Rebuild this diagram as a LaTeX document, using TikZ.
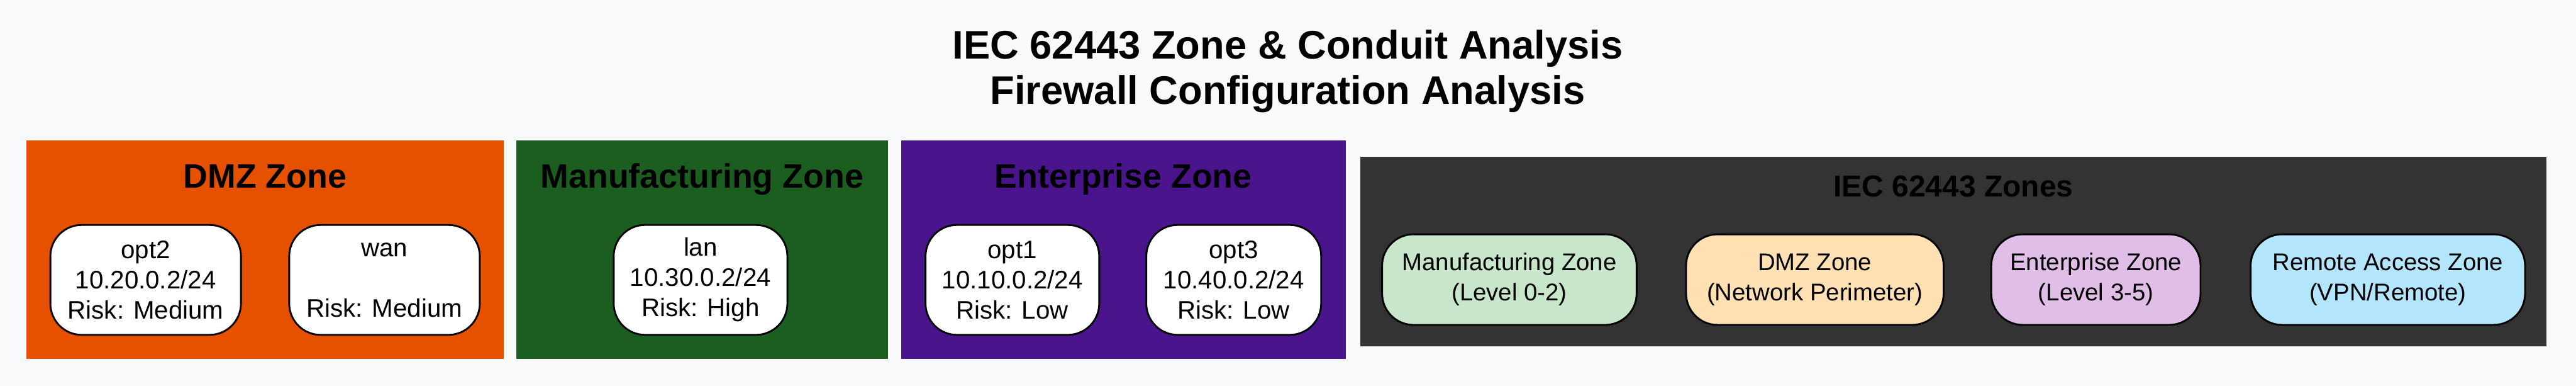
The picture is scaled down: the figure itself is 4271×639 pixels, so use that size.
\documentclass[tikz,border=0pt]{standalone}
\usepackage{fontspec}
\setmainfont{Liberation Sans}
\definecolor{bgc}{HTML}{F8F9FA}
\definecolor{dmzc}{HTML}{E65100}
\definecolor{mfgc}{HTML}{1B5E20}
\definecolor{entc}{HTML}{4A148C}
\definecolor{iecc}{HTML}{333333}
\definecolor{mfgl}{HTML}{C8E6C9}
\definecolor{dmzl}{HTML}{FFE0B2}
\definecolor{entl}{HTML}{E1BEE7}
\definecolor{rmtl}{HTML}{B3E5FC}
\tikzset{
  zone/.style={draw=none,inner sep=0pt,minimum height=180.5pt},
  ztitle/.style={anchor=base,inner sep=0pt,font=\fontsize{28pt}{34pt}\selectfont\bfseries},
  ifbox/.style={draw=black,line width=1.5pt,rounded corners=26pt,fill=white,align=center,inner sep=0pt,minimum height=91pt,font=\fontsize{21pt}{25pt}\selectfont},
  lvbox/.style={ifbox,minimum height=75pt,font=\fontsize{20pt}{25pt}\selectfont},
}

\begin{document}
\begin{tikzpicture}[x=0.5pt,y=-0.5pt]
\fill[bgc] (0,0) rectangle (4271,639);
% title
\node[ztitle,font=\fontsize{33pt}{38pt}\selectfont\bfseries] (title) at (2135,97) {IEC 62443 Zone \& Conduit Analysis};
\node[ztitle,font=\fontsize{33pt}{38pt}\selectfont\bfseries] (subtitle) at (2135,173) {Firewall Configuration Analysis};
% zones from the firewall config
\node[zone,fill=dmzc,minimum width=395.5pt] (dmz) at (439.5,413.5) {};
\node[ztitle] (dmzt) at (439.5,311) {DMZ Zone};
\node[zone,fill=mfgc,minimum width=308pt] (mfg) at (1164,413.5) {};
\node[ztitle] (mfgt) at (1164,311) {Manufacturing Zone};
\node[zone,fill=entc,minimum width=368.5pt] (ent) at (1862.5,413.5) {};
\node[ztitle] (entt) at (1862.5,311) {Enterprise Zone};
\node[ifbox,minimum width=158pt] (opt2) at (241.5,463.5) {opt2\\10.20.0.2/24\\Risk: Medium};
\node[ifbox,minimum width=158pt] (wan) at (637.5,463.5) {wan\\\mbox{}\\Risk: Medium};
\node[ifbox,minimum width=144pt] (lan) at (1161.5,463.5) {lan\\10.30.0.2/24\\Risk: High};
\node[ifbox,minimum width=144pt] (opt1) at (1678.5,463.5) {opt1\\10.10.0.2/24\\Risk: Low};
\node[ifbox,minimum width=145pt] (opt3) at (2045.5,463.5) {opt3\\10.40.0.2/24\\Risk: Low};
% legend of the levels
\node[zone,fill=iecc,minimum width=983.5pt,minimum height=157pt] (iec) at (3238.5,417) {};
\node[ztitle,font=\fontsize{25pt}{30pt}\selectfont\bfseries] (iect) at (3238.5,326) {IEC 62443 Zones};
\node[lvbox,fill=mfgl,minimum width=211pt] (mz) at (2502.5,463) {Manufacturing Zone\\(Level 0-2)};
\node[lvbox,fill=dmzl,minimum width=213.5pt] (dz) at (3009,463) {DMZ Zone\\(Network Perimeter)};
\node[lvbox,fill=entl,minimum width=173.5pt] (ez) at (3475,463) {Enterprise Zone\\(Level 3-5)};
\node[lvbox,fill=rmtl,minimum width=227.5pt] (rz) at (3959,463) {Remote Access Zone\\(VPN/Remote)};
\end{tikzpicture}
\end{document}
